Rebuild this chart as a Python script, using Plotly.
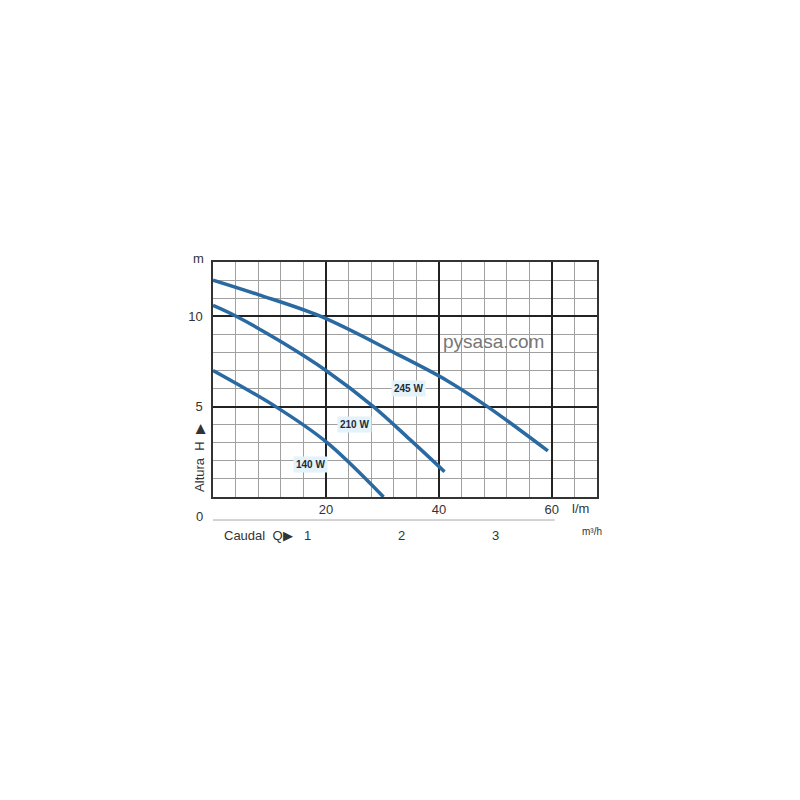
import plotly.graph_objects as go

# Curvas caudal (l/m) - altura (m)
q_245 = [0, 8, 19, 32, 41.4, 48.6, 59.3]
h_245 = [12.0, 11.2, 10.0, 8.0, 6.45, 5.0, 2.55]

q_210 = [0, 4.1, 12, 20, 28.4, 34.8, 41]
h_210 = [10.6, 10.0, 8.6, 7.0, 5.0, 3.2, 1.4]

q_140 = [0, 11.1, 20, 30.2]
h_140 = [7.0, 5.0, 3.06, 0]

etiquetas = ["245 W", "210 W", "140 W"]
etiqueta_x = [34.6, 25.0, 17.3]
etiqueta_y = [6.0, 4.0, 1.78]

x_ticks = [20, 40, 60]
y_ticks = [5, 10]
m3h_ticks = [1, 2, 3]

azul = '#2a6aa3'
texto = '#333333'
fuente = "Liberation Sans, Arial, sans-serif"

fig = go.Figure()
for q, h in zip([q_245, q_210, q_140], [h_245, h_210, h_140]):
    fig.add_trace(go.Scatter(x=q, y=h, mode='lines', line=dict(color=azul, width=3.5, shape='spline'),
                             showlegend=False, hoverinfo='skip'))

anotaciones = []
for t, x, y in zip(etiquetas, etiqueta_x, etiqueta_y):
    anotaciones.append(dict(x=x, y=y, text=f"<b>{t}</b>", showarrow=False, bgcolor='#e4f2fa',
                            font=dict(size=10, color='#1c2b3a', family=fuente), borderpad=2))


def nota(x, y, txt, size=13, **kw):
    # texto en coordenadas de papel, centrado
    d = dict(x=x, y=y, xref='paper', yref='paper', text=txt, showarrow=False,
             xanchor='center', yanchor='middle', font=dict(size=size, color=texto, family=fuente))
    d.update(kw)
    return d


# eje secundario m3/h (1 m3/h = 1000/60 l/m)
for m in m3h_ticks:
    anotaciones.append(dict(x=m * 1000 / 60, xref='x', y=-0.162, yref='paper', text=str(m), showarrow=False,
                            xanchor='center', yanchor='middle', font=dict(size=13, color=texto, family=fuente)))

anotaciones += [
    nota(-0.039, 1.017, "m"),
    nota(-0.034, -0.085, "0"),
    nota(0.956, -0.047, "l/m"),
    nota(0.987, -0.145, "m³/h", size=10),
    nota(0.213, -0.162, "Caudal  Q▶", xanchor='right'),
    nota(-0.034, 0.166, "Altura  H  ▶", textangle=-90),
    dict(x=49.6, y=8.6, text="pysasa.com", showarrow=False,
         font=dict(size=19, color='#777777', family=fuente)),
]

fig.update_layout(
    width=800, height=800, autosize=False,
    margin=dict(l=205, r=211, t=254, b=311),
    paper_bgcolor='white', plot_bgcolor='white',
    font=dict(family=fuente, color=texto, size=13),
    annotations=anotaciones,
    shapes=[dict(type='line', xref='x', yref='paper', x0=0, x1=60.5, y0=-0.098, y1=-0.098,
                 line=dict(color='#a8a8a8', width=1))],
    xaxis=dict(range=[0, 68], tickvals=x_ticks, showgrid=True, gridcolor='#222222', gridwidth=1.5,
               minor=dict(dtick=4, tick0=0, showgrid=True, gridcolor='#a0a0a0', gridwidth=1),
               showline=True, linecolor='#333333', linewidth=1.5, mirror=True, zeroline=False,
               ticks='', tickfont=dict(size=13, color=texto)),
    yaxis=dict(range=[0, 13], tickvals=y_ticks, showgrid=True, gridcolor='#222222', gridwidth=1.5,
               minor=dict(dtick=1, tick0=0, showgrid=True, gridcolor='#a0a0a0', gridwidth=1),
               showline=True, linecolor='#333333', linewidth=1.5, mirror=True, zeroline=False,
               ticks='', ticklabelstandoff=6, tickfont=dict(size=13, color=texto)),
)

fig.write_html("out.html")
